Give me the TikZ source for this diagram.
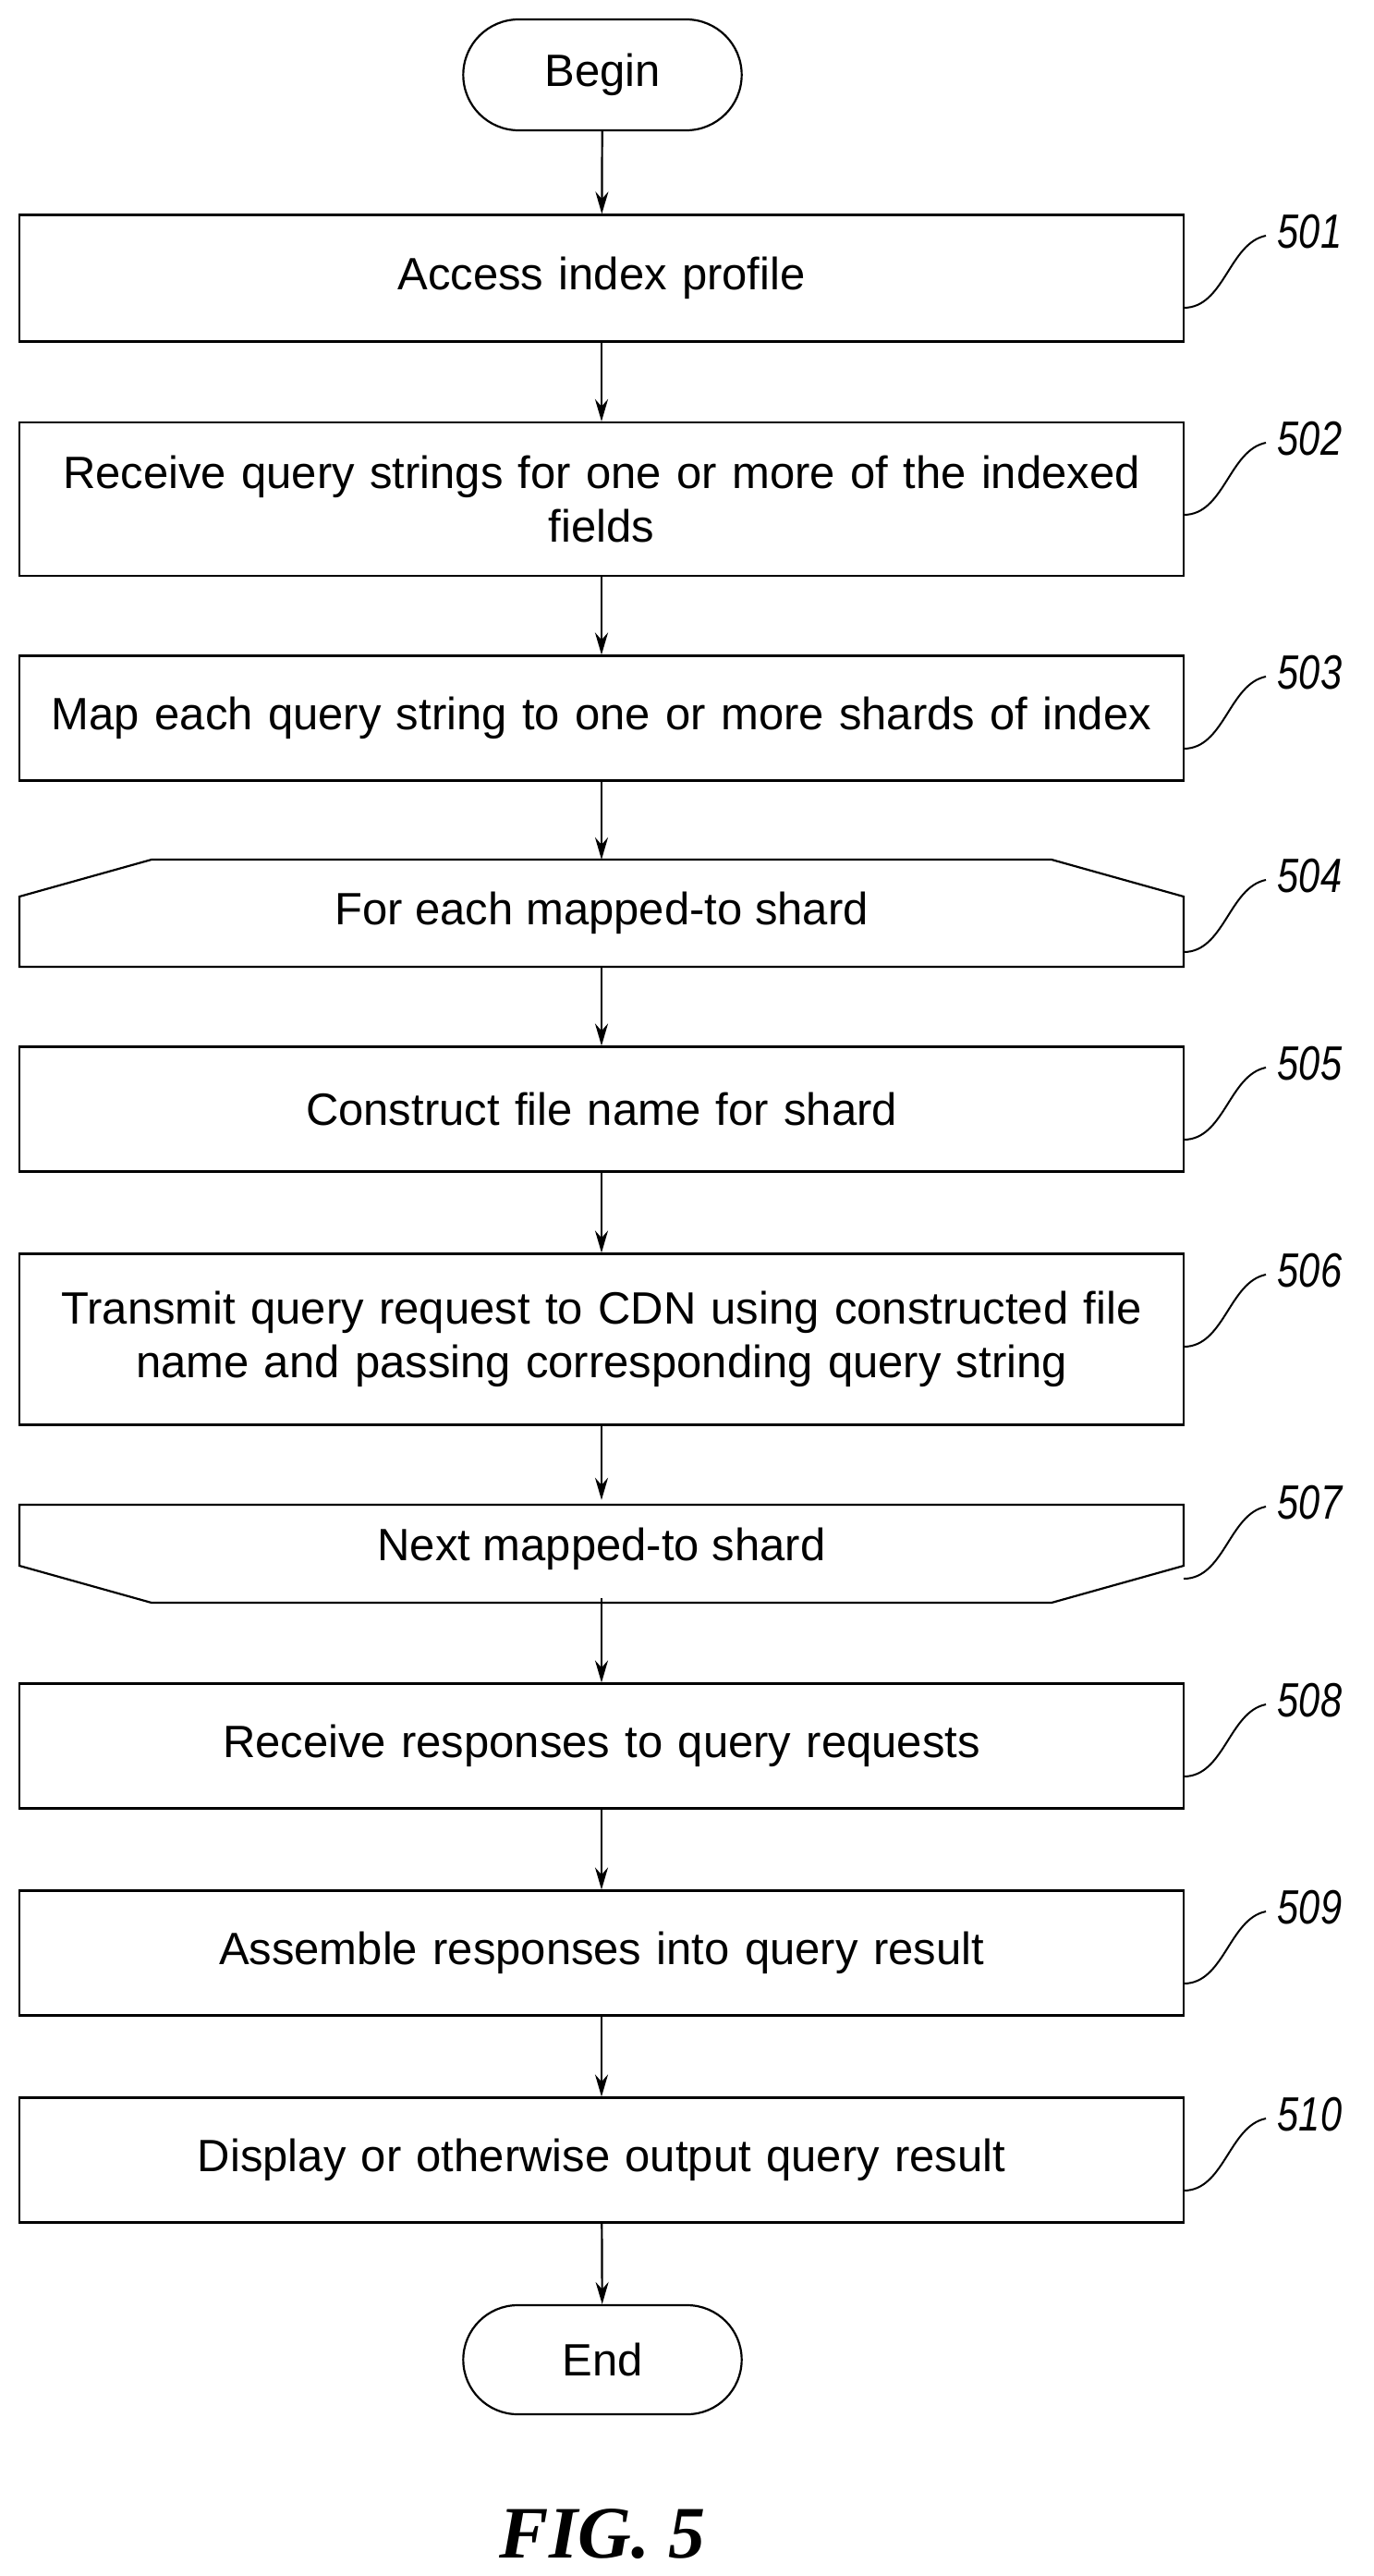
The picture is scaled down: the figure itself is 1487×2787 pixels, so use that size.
\documentclass[tikz,border=0pt]{standalone}
\usepackage{fontspec}
\setmainfont{Liberation Sans}
\newfontfamily\figfont{Liberation Serif}
\usetikzlibrary{arrows.meta,shapes.misc}
\begin{document}
\begin{tikzpicture}[x=1pt,y=-1pt,
  box/.style={draw,line width=2.2pt,minimum width=1260pt,align=center,font=\fontsize{49}{58}\selectfont,inner sep=0pt,text width=1220pt},
  term/.style={draw,line width=2.2pt,rounded rectangle,minimum width=308pt,minimum height=120pt,font=\fontsize{49}{58}\selectfont},
  arr/.style={line width=2.2pt,-{Stealth[length=24pt,width=14pt]}},
  lab/.style={font=\fontsize{52}{60}\selectfont\itshape,anchor=west,xscale=0.8},
  sq/.style={line width=2pt}]
\useasboundingbox (0,0) rectangle (1487,2787);
\node[term] (b) at (652,81) {Begin};
\node[box,minimum height=137pt] (n1) at (651,301) {Access index profile};
\node[box,minimum height=166pt] (n2) at (651,540) {Receive query strings for one or more of the indexed\\fields};
\node[box,minimum height=135pt] (n3) at (651,777) {Map each query string to one or more shards of index};
\node[minimum width=1260pt,minimum height=116pt,inner sep=0pt,font=\fontsize{49}{58}\selectfont] (n4) at (651,988) {For each mapped-to shard};
\draw[line width=2.2pt] (21,1046) -- (21,970) -- (164,930) -- (1138,930) -- (1281,970) -- (1281,1046) -- cycle;
\node[box,minimum height=135pt] (n5) at (651,1200) {Construct file name for shard};
\node[box,minimum height=185pt] (n6) at (651,1449) {Transmit query request to CDN using constructed file\\name and passing corresponding query string};
\node[minimum width=1260pt,minimum height=106pt,inner sep=0pt,font=\fontsize{49}{58}\selectfont] (n7) at (651,1676) {Next mapped-to shard};
\draw[line width=2.2pt] (21,1628) -- (1281,1628) -- (1281,1694) -- (1138,1734) -- (164,1734) -- (21,1694) -- cycle;
\node[box,minimum height=135pt] (n8) at (651,1889) {Receive responses to query requests};
\node[box,minimum height=135pt] (n9) at (651,2113) {Assemble responses into query result};
\node[box,minimum height=135pt] (n10) at (651,2337) {Display or otherwise output query result};
\node[term,minimum height=118pt] (e) at (652,2553) {End};
\draw[arr] (b) -- (n1);
\draw[arr] (n1) -- (n2);
\draw[arr] (n2) -- (n3);
\draw[arr] (n3) -- (n4.north|-0,930);
\draw[arr] (n4.south|-0,1046) -- (n5);
\draw[arr] (n5) -- (n6);
\draw[arr] (n6) -- (n7.north);
\draw[arr] (n7.south) -- (n8);
\draw[arr] (n8) -- (n9);
\draw[arr] (n9) -- (n10);
\draw[arr] (n10) -- (e);
\foreach \t/\l in {233/501,457/502,710/503,930/504,1133/505,1357/506,1608/507,1822/508,2046/509,2270/510}{
  \coordinate (s\l) at (1281,\t+100);
  \coordinate (t\l) at (1370,\t+22);
  \draw[sq] (s\l) .. controls (1325,\t+100) and (1330,\t+30) .. (t\l);
  \node[lab] (l\l) at (1380,\t+18) {\l};
}
\node[font=\fontsize{80}{90}\selectfont\figfont\bfseries\itshape] (fig) at (652,2742) {FIG. 5};
\end{tikzpicture}
\end{document}
